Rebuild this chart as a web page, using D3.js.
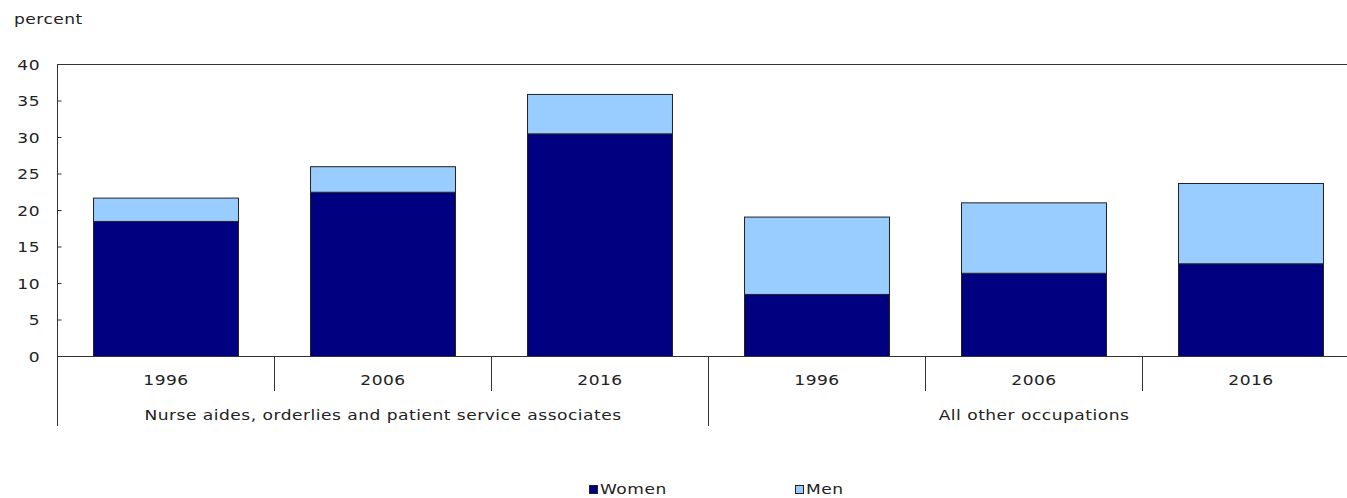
<!DOCTYPE html>
<html>
<head>
<meta charset="utf-8">
<script src="https://cdn.jsdelivr.net/npm/d3@7"></script>
<style>
  html, body { margin: 0; padding: 0; background: #fff; }
  svg { display: block; font-family: "DejaVu Sans", Verdana, sans-serif; }
  svg text { font-size: 14px; letter-spacing: 0.4px; fill: #222; }
</style>
</head>
<body>
<svg id="chart" width="1347" height="498"></svg>
<script>
// Occupation groups and census years
const groups = ["Nurse aides, orderlies and patient service associates", "All other occupations"];
const years = ["1996", "2006", "2016"];
// Percent values, in order: group 1 years, then group 2 years
const women = [18.5, 22.5, 30.5, 8.5, 11.4, 12.7];
const men = [3.2, 3.5, 5.4, 10.6, 9.65, 11.0];
const yTicks = [0, 5, 10, 15, 20, 25, 30, 35, 40];
const seriesNames = ["Women", "Men"];
const colors = ["#000080", "#99ccff"];

const svg = d3.select("#chart");
const plotLeft = 57, plotTop = 64, plotBottom = 356, bandStep = 217;
const textStretch = 1.22;
const keys = [];
groups.forEach((g, gi) => years.forEach(yr => keys.push(gi + "-" + yr)));

const x = d3.scaleBand().domain(keys)
  .range([plotLeft, plotLeft + bandStep * keys.length])
  .paddingInner(0.332).paddingOuter(0.166);
const y = d3.scaleLinear().domain([0, 40]).range([plotBottom, plotTop]);

// Wide text, placed at (tx, ty)
function label(parent, tx, ty, str, anchor) {
  return parent.append("text")
    .attr("transform", `translate(${tx},${ty}) scale(${textStretch},1)`)
    .attr("text-anchor", anchor || "start")
    .text(str);
}

const rows = keys.map((k, i) => ({ key: k, Women: women[i], Men: men[i] }));
const stacked = d3.stack().keys(seriesNames)(rows);

// Stacked bars
svg.append("g").selectAll("g").data(stacked).join("g")
  .attr("fill", (d, i) => colors[i])
  .selectAll("rect").data(d => d).join("rect")
  .attr("x", d => x(d.data.key) + 0.5)
  .attr("y", d => y(d[1]) + 0.5)
  .attr("width", x.bandwidth())
  .attr("height", d => y(d[0]) - y(d[1]))
  .attr("stroke", "#222").attr("stroke-width", 1);

const lineColor = "#333";
// Frame: top border, baseline, left axis
svg.append("line").attr("x1", plotLeft).attr("x2", 1347).attr("y1", plotTop + 0.5).attr("y2", plotTop + 0.5)
  .attr("stroke", lineColor);
svg.append("line").attr("x1", plotLeft).attr("x2", 1347).attr("y1", plotBottom + 0.5).attr("y2", plotBottom + 0.5)
  .attr("stroke", lineColor);
svg.append("line").attr("x1", plotLeft + 0.5).attr("x2", plotLeft + 0.5).attr("y1", plotTop).attr("y2", 426)
  .attr("stroke", lineColor);

// Y axis ticks (inward) and labels
const yAxis = d3.axisRight(y).tickValues(yTicks).tickSize(4).tickFormat(d3.format("d"));
const ya = svg.append("g").attr("transform", `translate(${plotLeft + 0.5},0)`).call(yAxis);
ya.select(".domain").remove();
ya.selectAll(".tick line").attr("stroke", lineColor);
ya.selectAll(".tick text").remove();
ya.attr("font-size", null).attr("font-family", null);
yTicks.forEach(t => label(svg, 40, y(t) + 5.5, d3.format("d")(t), "end"));

// Year labels and separators
const bandStart = k => x(k) - x.step() * x.paddingInner() / 2;
keys.forEach((k, i) => {
  label(svg, x(k) + x.bandwidth() / 2 + 0.5, 385, years[i % years.length], "middle");
  if (i > 0) {
    const sx = Math.round(bandStart(k)) + 0.5;
    const groupEdge = i % years.length === 0;
    svg.append("line").attr("x1", sx).attr("x2", sx)
      .attr("y1", plotBottom).attr("y2", groupEdge ? 426 : 391).attr("stroke", lineColor);
  }
});

// Group labels
groups.forEach((g, gi) => {
  const first = keys[gi * years.length], last = keys[gi * years.length + years.length - 1];
  const cx = (bandStart(first) + bandStart(last) + x.step()) / 2;
  label(svg, cx + 0.5, 420, g, "middle");
});

// Unit label
label(svg, 14, 24, "percent");

// Legend
const legendX = [589, 795];
seriesNames.forEach((s, i) => {
  svg.append("rect").attr("x", legendX[i] + 0.5).attr("y", 485.5).attr("width", 8).attr("height", 8)
    .attr("fill", colors[i]).attr("stroke", "#222");
  label(svg, legendX[i] + 11, 494, s);
});
</script>
</body>
</html>
